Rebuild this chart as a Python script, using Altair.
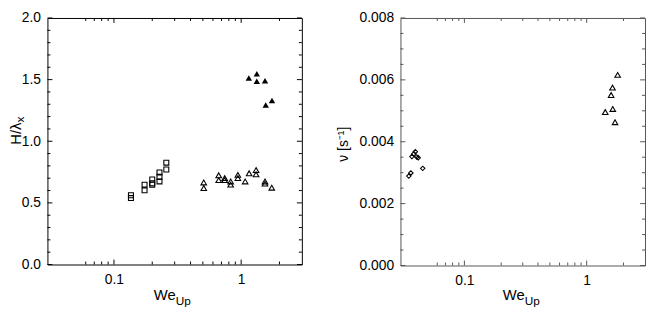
import altair as alt
import pandas as pd

FONT = "Liberation Sans"

# ---------------- data: left panel (H/lambda_x vs We_Up) ----------------
sq_we = [0.136, 0.136, 0.174, 0.174, 0.200, 0.200, 0.200, 0.228, 0.228, 0.228, 0.258, 0.258]
sq_h = [0.562, 0.539, 0.648, 0.602, 0.690, 0.659, 0.648, 0.747, 0.711, 0.674, 0.826, 0.771]

tri_we = [0.508, 0.508, 0.666, 0.666, 0.742, 0.742, 0.827, 0.827, 0.942, 0.942,
          1.075, 1.155, 1.31, 1.31, 1.54, 1.54, 1.74]
tri_h = [0.666, 0.620, 0.724, 0.685, 0.701, 0.685, 0.674, 0.648, 0.727, 0.701,
         0.674, 0.740, 0.766, 0.732, 0.674, 0.656, 0.623]

ftri_we = [1.149, 1.327, 1.327, 1.54, 1.747, 1.56]
ftri_h = [1.513, 1.547, 1.487, 1.490, 1.330, 1.294]

# ---------------- data: right panel (nu vs We_Up) ----------------
dia_we = [0.0351, 0.0365, 0.0372, 0.0386, 0.0397, 0.0408, 0.0419, 0.0456]
dia_nu = [0.00289, 0.00299, 0.00352, 0.00361, 0.00368, 0.00351, 0.00348, 0.00314]

rtri_we = [1.793, 1.626, 1.585, 1.419, 1.635, 1.706]
rtri_nu = [0.00616, 0.00575, 0.00551, 0.00496, 0.00506, 0.00463]

# ---------------- axes / tick lists ----------------
x_domain = [0.03, 3]
x_label_vals = [0.1, 1]
x_major = [0.1, 1]
x_minor = [0.06, 0.07, 0.08, 0.09, 0.2, 0.3, 0.4, 0.5, 0.6, 0.7, 0.8, 0.9, 2]

left_y_domain = [0, 2]
left_y_labels = [0.0, 0.5, 1.0, 1.5, 2.0]
left_y_minor = [0.1, 0.2, 0.3, 0.4, 0.6, 0.7, 0.8, 0.9, 1.1, 1.2, 1.3, 1.4,
                1.6, 1.7, 1.8, 1.9]

right_y_domain = [0, 0.008]
right_y_labels = [0.0, 0.002, 0.004, 0.006, 0.008]
right_y_minor = [0.0005, 0.001, 0.0015, 0.0025, 0.003, 0.0035, 0.0045, 0.005,
                 0.0055, 0.0065, 0.007, 0.0075]

W1, H1 = 258, 250
W2, H2 = 248, 251


def x_axis():
    return alt.Axis(values=x_label_vals, format="~g", ticks=False, domain=False,
                    grid=False, title=None, labelFont=FONT, labelFontSize=14,
                    labelColor="black", labelPadding=8)


def y_axis(vals, fmt):
    return alt.Axis(values=vals, format=fmt, ticks=False, domain=False, grid=False,
                    title=None, labelFont=FONT, labelFontSize=14, labelColor="black",
                    labelPadding=7)


def tick_layers(xs, ys, xax, yax, ymaj, ymin, w, h, color):
    layers = []
    for vals, L in ((x_major, 5), (x_minor, 3)):
        base = alt.Chart(pd.DataFrame({"v": vals}))
        layers.append(base.mark_rule(color=color, strokeWidth=1).encode(
            x=alt.X("v:Q", scale=xs, axis=xax), y=alt.value(h), y2=alt.value(h - L)))
        layers.append(base.mark_rule(color=color, strokeWidth=1).encode(
            x=alt.X("v:Q", scale=xs, axis=xax), y=alt.value(0), y2=alt.value(L)))
    for vals, L in ((ymaj, 5), (ymin, 3)):
        base = alt.Chart(pd.DataFrame({"v": vals}))
        layers.append(base.mark_rule(color=color, strokeWidth=1).encode(
            y=alt.Y("v:Q", scale=ys, axis=yax), x=alt.value(0), x2=alt.value(L)))
        layers.append(base.mark_rule(color=color, strokeWidth=1).encode(
            y=alt.Y("v:Q", scale=ys, axis=yax), x=alt.value(w), x2=alt.value(w - L)))
    return layers


def text_layer(txt, x, y, size, align="center", angle=0):
    return alt.Chart(pd.DataFrame({"t": [txt]})).mark_text(
        font=FONT, fontSize=size, align=align, baseline="middle", angle=angle,
        color="black").encode(x=alt.value(x), y=alt.value(y), text="t:N")


# ---------------- left panel ----------------
xs1 = alt.Scale(type="log", domain=x_domain, nice=False)
ys1 = alt.Scale(domain=left_y_domain, nice=False, zero=False)
xa1 = x_axis()
ya1 = y_axis(left_y_labels, ".1f")

sq = alt.Chart(pd.DataFrame({"We": sq_we, "H": sq_h})).mark_point(
    shape="square", filled=False, color="black", strokeWidth=1.1, size=25, opacity=1
).encode(x=alt.X("We:Q", scale=xs1, axis=xa1), y=alt.Y("H:Q", scale=ys1, axis=ya1))
otri = alt.Chart(pd.DataFrame({"We": tri_we, "H": tri_h})).mark_point(
    shape="triangle-up", filled=False, color="black", strokeWidth=1.1, size=32, opacity=1
).encode(x=alt.X("We:Q", scale=xs1, axis=xa1), y=alt.Y("H:Q", scale=ys1, axis=ya1))
ftri = alt.Chart(pd.DataFrame({"We": ftri_we, "H": ftri_h})).mark_point(
    shape="triangle-up", filled=True, color="black", size=42, opacity=1
).encode(x=alt.X("We:Q", scale=xs1, axis=xa1), y=alt.Y("H:Q", scale=ys1, axis=ya1))

left_layers = [sq, otri, ftri] + tick_layers(xs1, ys1, xa1, ya1, left_y_labels,
                                             left_y_minor, W1, H1, "black")
left_layers += [
    text_layer("We", W1 / 2 + 1, H1 + 31, 15, align="right"),
    text_layer("Up", W1 / 2 + 1, H1 + 37, 12, align="left"),
    text_layer("H/λ", -32, 106, 15, align="right", angle=270),
    text_layer("x", -28, 106, 12, align="left", angle=270),
]
left = alt.layer(*left_layers).properties(
    width=W1, height=H1, view=alt.ViewBackground(stroke="black", strokeWidth=1))

# ---------------- right panel ----------------
xs2 = alt.Scale(type="log", domain=x_domain, nice=False)
ys2 = alt.Scale(domain=right_y_domain, nice=False, zero=False)
xa2 = x_axis()
ya2 = y_axis(right_y_labels, ".3f")

dia = alt.Chart(pd.DataFrame({"We": dia_we, "nu": dia_nu})).mark_point(
    shape="diamond", filled=False, color="black", strokeWidth=1.1, size=20, opacity=1
).encode(x=alt.X("We:Q", scale=xs2, axis=xa2), y=alt.Y("nu:Q", scale=ys2, axis=ya2))
rtri = alt.Chart(pd.DataFrame({"We": rtri_we, "nu": rtri_nu})).mark_point(
    shape="triangle-up", filled=False, color="black", strokeWidth=1.1, size=32, opacity=1
).encode(x=alt.X("We:Q", scale=xs2, axis=xa2), y=alt.Y("nu:Q", scale=ys2, axis=ya2))

right_layers = [dia, rtri] + tick_layers(xs2, ys2, xa2, ya2, right_y_labels,
                                         right_y_minor, W2, H2, "#555555")
right_layers += [
    text_layer("We", W2 / 2 + 2, H2 + 30, 15, align="right"),
    text_layer("Up", W2 / 2 + 2, H2 + 36, 12, align="left"),
    text_layer("ν [s⁻¹]", -57, 128, 14, align="center", angle=270),
]
right = alt.layer(*right_layers).properties(
    width=W2, height=H2, view=alt.ViewBackground(stroke="#555555", strokeWidth=1))

chart = alt.hconcat(left, right, spacing=100, bounds="flush").properties(
    padding={"left": 0, "top": 0, "right": 0, "bottom": 0}
).configure_view(stroke="black")

chart.save("out.html", embed_options={"renderer": "svg", "actions": False})
